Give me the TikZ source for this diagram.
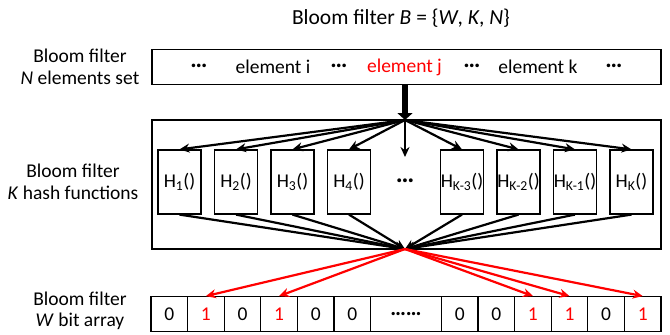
\documentclass[tikz,border=0pt]{standalone}
\usepackage{fontspec}
\setmainfont{Carlito}
\usetikzlibrary{arrows.meta}
\tikzset{
  box/.style={draw, line width=1.4pt, inner sep=0pt},
  hbox/.style={draw, line width=1.2pt, minimum width=43pt, minimum height=64pt, inner sep=0pt, font=\fontsize{19.5}{22}\selectfont},
  cell/.style={draw, line width=1.2pt, minimum height=35pt, inner sep=0pt, font=\fontsize{19.5}{22}\selectfont},
  lab/.style={align=center, inner sep=0pt, font=\fontsize{19.5}{21.5}\selectfont},
  txt/.style={inner sep=0pt, font=\fontsize{19.5}{22}\selectfont},
  dots/.style={inner sep=0pt, font=\fontsize{24}{24}\bfseries},
  arr/.style={line width=2.2pt, -{Stealth[length=10pt,width=9pt]}},
  rarr/.style={arr, draw=red},
}
\begin{document}
\begin{tikzpicture}[x=1pt,y=-1pt]
\useasboundingbox (0,0) rectangle (670,335);
% title
\node[txt, font=\fontsize{21.5}{24}\selectfont] (title) at (401,18) {Bloom filter \textit{B} = \{\textit{W}, \textit{K}, \textit{N}\}};
% labels
\node[lab] (labN) at (80,67) {Bloom filter\\\textit{N} elements set};
\node[lab] (labK) at (73,182) {Bloom filter\\\textit{K} hash functions};
\node[lab] (labW) at (80,311) {Bloom filter\\\textit{W} bit array};
% top box
\node[box, minimum width=509pt, minimum height=35pt] (top) at (406.5,67) {};
\node[dots] (d1) at (199,66) {…};
\node[txt] (ei) at (273,67) {element i};
\node[dots] (d2) at (339,66) {…};
\node[txt, text=red] (ej) at (404.5,67) {element j};
\node[dots] (d3) at (472,66) {…};
\node[txt] (ek) at (538,67) {element k};
\node[dots] (d4) at (614,66) {…};
% middle box
\node[box, minimum width=509pt, minimum height=129pt] (mid) at (406.5,184.5) {};
\coordinate (T) at (405,120);
\coordinate (B) at (405,249);
\coordinate (D) at (405,157);
\node[hbox] (h1) at (179.5,182) {H\textsubscript{1}()};
\node[hbox] (h2) at (236,182) {H\textsubscript{2}()};
\node[hbox] (h3) at (292.5,182) {H\textsubscript{3}()};
\node[hbox] (h4) at (349,182) {H\textsubscript{4}()};
\node[dots, font=\fontsize{26}{26}\bfseries] (hd) at (405,181) {…};
\node[hbox] (h5) at (462,182) {H\textsubscript{K-3}()};
\node[hbox] (h6) at (518.5,182) {H\textsubscript{K-2}()};
\node[hbox] (h7) at (575,182) {H\textsubscript{K-1}()};
\node[hbox] (h8) at (631.5,182) {H\textsubscript{K}()};
% thick arrow
\draw[line width=6.5pt, -{Triangle[length=7pt,width=15pt]}] (T |- top.south) -- (T);
% fan out
\foreach \h in {h1,h2,h3,h4,h5,h6,h7,h8}{
  \draw[arr] (T) -- (\h.north);
  \draw[arr] (\h.south) -- (B);
}
\draw[arr] (T) -- (D);
% bit array
\node[cell, minimum width=36.6pt] (c1) at (169.3,314.2) {0};
\node[cell, minimum width=36.6pt, text=red] (c2) at (205.9,314.2) {1};
\node[cell, minimum width=36.6pt] (c3) at (242.5,314.2) {0};
\node[cell, minimum width=36.6pt, text=red] (c4) at (279.1,314.2) {1};
\node[cell, minimum width=36.6pt] (c5) at (315.7,314.2) {0};
\node[cell, minimum width=36.6pt] (c6) at (352.3,314.2) {0};
\node[cell, minimum width=70.8pt, font=\fontsize{22}{22}\bfseries] (cw) at (406,314.2) {……};
\node[cell, minimum width=36.6pt] (c7) at (459.7,314.2) {0};
\node[cell, minimum width=36.6pt] (c8) at (496.3,314.2) {0};
\node[cell, minimum width=36.6pt, text=red] (c9) at (532.9,314.2) {1};
\node[cell, minimum width=36.6pt, text=red] (c10) at (569.5,314.2) {1};
\node[cell, minimum width=36.6pt] (c11) at (606.1,314.2) {0};
\node[cell, minimum width=36.6pt, text=red] (c12) at (642.7,314.2) {1};
\foreach \c in {c2,c4,c9,c10,c12}{
  \draw[rarr] (B) -- (\c.north);
}
\end{tikzpicture}
\end{document}
